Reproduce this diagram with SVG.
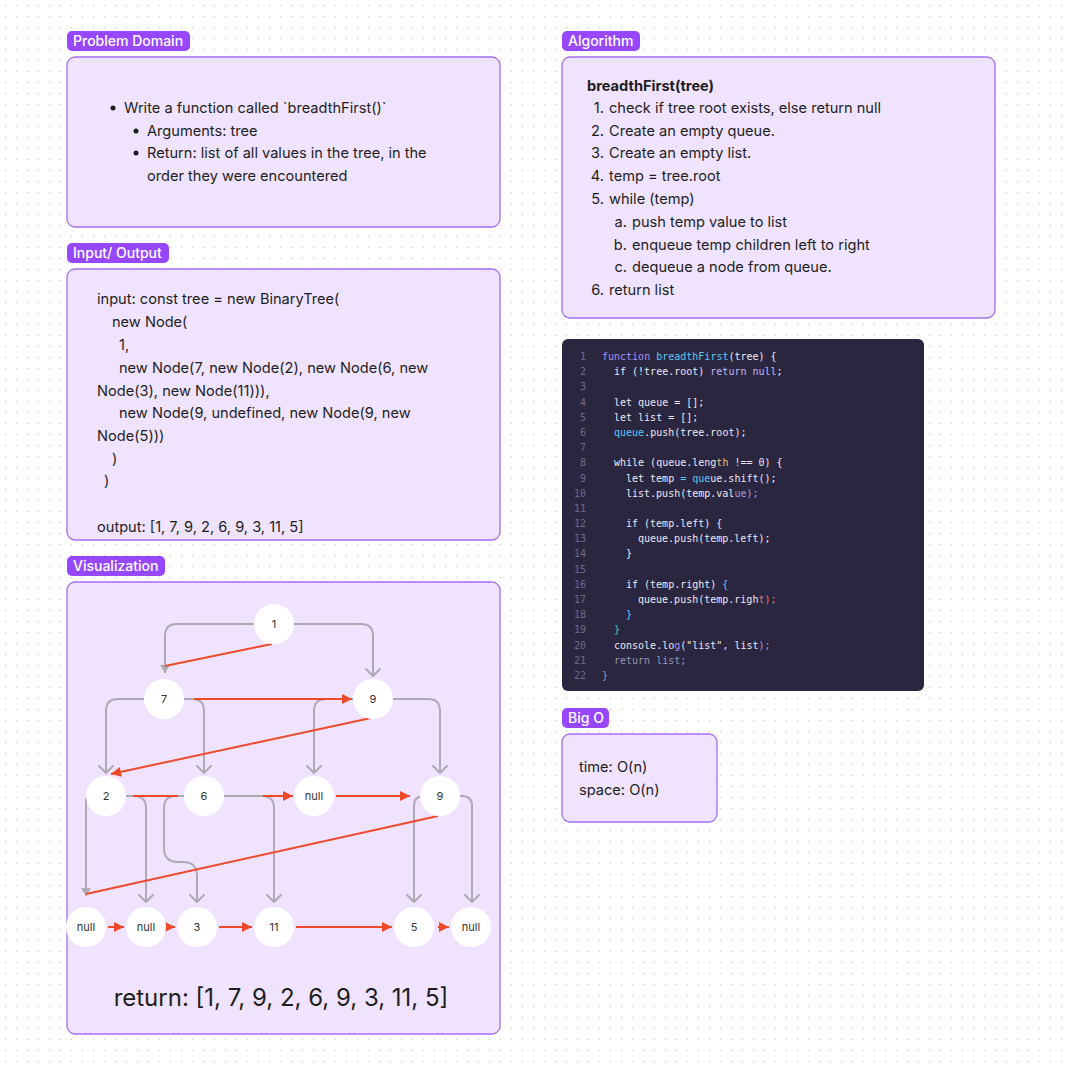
<svg xmlns="http://www.w3.org/2000/svg" width="1067" height="1070" viewBox="0 0 1067 1070">
<defs>
<pattern id="dots" x="0" y="0" width="11" height="11" patternUnits="userSpaceOnUse">
<circle cx="5.5" cy="5.5" r="0.75" fill="#cccccc"/>
</pattern>
<marker id="chev" viewBox="-10 -10 20 20" markerWidth="20" markerHeight="20" markerUnits="userSpaceOnUse" refX="0" refY="0" orient="auto">
<path d="M-7,-7 L0,0 L-7,7" fill="none" stroke="#aeaab3" stroke-width="2" stroke-linecap="round" stroke-linejoin="round"/>
</marker>
<marker id="gtri" viewBox="-10 -10 20 20" markerWidth="20" markerHeight="20" markerUnits="userSpaceOnUse" refX="0" refY="0" orient="auto">
<path d="M-8,-5 L0,0 L-8,5 Z" fill="#aeaab3"/>
</marker>
<marker id="rtri" viewBox="-12 -12 24 24" markerWidth="24" markerHeight="24" markerUnits="userSpaceOnUse" refX="0" refY="0" orient="auto">
<path d="M-10,-5 L0,0 L-10,5 Z" fill="#ee4a2a"/>
</marker>
</defs>
<style>
.t{font-family:Inter,"Liberation Sans",sans-serif;font-size:14.6px;fill:#1e1e1e}
.lbl{font-family:Inter,"Liberation Sans",sans-serif;font-size:14px;font-weight:500;fill:#ffffff}
.lr{fill:#9747ff}
.box{fill:#f0e3ff;stroke:#a56ef0;stroke-width:1.3}
.g{fill:none;stroke:#aeaab3;stroke-width:2}
.r{fill:none;stroke:#ee4a2a;stroke-width:2}
.nd{fill:#ffffff}
.nt{font-family:Inter,"Liberation Sans",sans-serif;font-size:11px;fill:#333333;text-anchor:middle}
.c{font-family:"DejaVu Sans Mono","Liberation Mono",monospace;font-size:10px;fill:#ebe8f3}
.ln{font-family:"DejaVu Sans Mono","Liberation Mono",monospace;font-size:10px;fill:#6f6a85;text-anchor:end}
.kw{fill:#a493f2}.fn{fill:#5ec8f2}.lv{fill:#c3b8ef}.ye{fill:#e5c07b}.fd{fill:#a59bd0}.sa{fill:#e07a6a}.te{fill:#4fc9a8}.gy{fill:#9a94b0}
</style>
<rect width="1067" height="1070" fill="#ffffff"/>
<rect width="1067" height="1070" fill="url(#dots)"/>

<g id="problem-domain">
<rect class="lr" x="67" y="31" width="123" height="20" rx="5"/>
<text class="lbl" x="73" y="46">Problem Domain</text>
<rect class="box" x="67" y="57" width="433" height="170" rx="8"/>
<circle cx="113" cy="108" r="2.5" fill="#1e1e1e"/>
<text class="t" x="124" y="113">Write a function called `breadthFirst()`</text>
<circle cx="136" cy="131" r="2.5" fill="#1e1e1e"/>
<text class="t" x="147" y="136">Arguments: tree</text>
<circle cx="136" cy="153" r="2.5" fill="#1e1e1e"/>
<text class="t" x="147" y="158">Return: list of all values in the tree, in the</text>
<text class="t" x="147" y="181">order they were encountered</text>
</g>

<g id="input-output">
<rect class="lr" x="67" y="243" width="102" height="20" rx="5"/>
<text class="lbl" x="73" y="258">Input/ Output</text>
<rect class="box" x="67" y="269" width="433" height="271" rx="8"/>
<text class="t" x="97" y="304">input: const tree = new BinaryTree(</text>
<text class="t" x="112" y="327">new Node(</text>
<text class="t" x="119" y="350">1,</text>
<text class="t" x="119" y="373">new Node(7, new Node(2), new Node(6, new</text>
<text class="t" x="97" y="396">Node(3), new Node(11))),</text>
<text class="t" x="119" y="418">new Node(9, undefined, new Node(9, new</text>
<text class="t" x="97" y="441">Node(5)))</text>
<text class="t" x="112" y="464">)</text>
<text class="t" x="104" y="486">)</text>
<text class="t" x="97" y="532">output: [1, 7, 9, 2, 6, 9, 3, 11, 5]</text>
</g>

<g id="algorithm">
<rect class="lr" x="562" y="31" width="78" height="20" rx="5"/>
<text class="lbl" x="568" y="46">Algorithm</text>
<rect class="box" x="562" y="57" width="433" height="261" rx="8"/>
<text class="t" x="587" y="91" font-weight="700">breadthFirst(tree)</text>
<g text-anchor="end">
<text class="t" x="604" y="113">1.</text>
<text class="t" x="604" y="136">2.</text>
<text class="t" x="604" y="158">3.</text>
<text class="t" x="604" y="181">4.</text>
<text class="t" x="604" y="204">5.</text>
<text class="t" x="627" y="227">a.</text>
<text class="t" x="627" y="250">b.</text>
<text class="t" x="627" y="272">c.</text>
<text class="t" x="604" y="295">6.</text>
</g>
<text class="t" x="609" y="113">check if tree root exists, else return null</text>
<text class="t" x="609" y="136">Create an empty queue.</text>
<text class="t" x="609" y="158">Create an empty list.</text>
<text class="t" x="609" y="181">temp = tree.root</text>
<text class="t" x="609" y="204">while (temp)</text>
<text class="t" x="632" y="227">push temp value to list</text>
<text class="t" x="632" y="250">enqueue temp children left to right</text>
<text class="t" x="632" y="272">dequeue a node from queue.</text>
<text class="t" x="609" y="295">return list</text>
</g>

<g id="code">
<rect x="562" y="339" width="362" height="352" rx="6" fill="#2b2640"/>
<text class="ln" x="586" y="360">1</text>
<text class="ln" x="586" y="375">2</text>
<text class="ln" x="586" y="390">3</text>
<text class="ln" x="586" y="406">4</text>
<text class="ln" x="586" y="421">5</text>
<text class="ln" x="586" y="436">6</text>
<text class="ln" x="586" y="451">7</text>
<text class="ln" x="586" y="466">8</text>
<text class="ln" x="586" y="482">9</text>
<text class="ln" x="586" y="497">10</text>
<text class="ln" x="586" y="512">11</text>
<text class="ln" x="586" y="527">12</text>
<text class="ln" x="586" y="542">13</text>
<text class="ln" x="586" y="557">14</text>
<text class="ln" x="586" y="573">15</text>
<text class="ln" x="586" y="588">16</text>
<text class="ln" x="586" y="603">17</text>
<text class="ln" x="586" y="618">18</text>
<text class="ln" x="586" y="633">19</text>
<text class="ln" x="586" y="649">20</text>
<text class="ln" x="586" y="664">21</text>
<text class="ln" x="586" y="679">22</text>
<text class="c" x="602" y="360" xml:space="preserve"><tspan class="kw">function</tspan> <tspan class="fn">breadthFirst</tspan>(tree) {</text>
<text class="c" x="614" y="375" xml:space="preserve">if (!tree.root) <tspan class="lv">return null</tspan>;</text>
<text class="c" x="614" y="406">let queue = [];</text>
<text class="c" x="614" y="421">let list = [];</text>
<text class="c" x="614" y="436"><tspan class="fn">queue</tspan>.push(tree.root);</text>
<text class="c" x="614" y="466" xml:space="preserve">while (queue.leng<tspan class="ye">th</tspan> !== 0) {</text>
<text class="c" x="626" y="482" xml:space="preserve">let temp <tspan class="fn">= que</tspan>ue.shift();</text>
<text class="c" x="626" y="497">list.push(temp.val<tspan class="fd">ue);</tspan></text>
<text class="c" x="626" y="527">if (temp.left) {</text>
<text class="c" x="638" y="542">queue.push(temp.left);</text>
<text class="c" x="626" y="557">}</text>
<text class="c" x="626" y="588" xml:space="preserve">if (temp.right) <tspan class="fn">{</tspan></text>
<text class="c" x="638" y="603">queue.push(temp.righ<tspan class="sa">t);</tspan></text>
<text class="c fn" x="626" y="618">}</text>
<text class="c te" x="614" y="633">}</text>
<text class="c" x="614" y="649" xml:space="preserve">console.lo<tspan class="kw">g</tspan>("list", list<tspan class="fd">);</tspan></text>
<text class="c gy" x="614" y="664">return list;</text>
<text class="c gy" x="602" y="679">}</text>
</g>

<g id="big-o">
<rect class="lr" x="562" y="708" width="47" height="20" rx="5"/>
<text class="lbl" x="568" y="723">Big O</text>
<rect class="box" x="562" y="734" width="155" height="88" rx="8"/>
<text class="t" x="579" y="772">time: O(n)</text>
<text class="t" x="579" y="795">space: O(n)</text>
</g>

<g id="visualization">
<rect class="lr" x="67" y="556" width="98" height="20" rx="5"/>
<text class="lbl" x="73" y="571">Visualization</text>
<rect class="box" x="67" y="582" width="433" height="452" rx="8"/>
<text x="281" y="1006" font-family="Inter,'Liberation Sans',sans-serif" font-size="24" fill="#1e1e1e" text-anchor="middle">return: [1, 7, 9, 2, 6, 9, 3, 11, 5]</text>
</g>

<g id="connectors">
<path class="g" d="M254,624 H177 Q165,624 165,636 V673" marker-end="url(#gtri)"/>
<path class="g" d="M294,624 H361 Q373,624 373,636 V676" marker-end="url(#chev)"/>
<path class="g" d="M144,699 H118 Q106,699 106,711 V773" marker-end="url(#chev)"/>
<path class="g" d="M184,699 H192 Q204,699 204,711 V773" marker-end="url(#chev)"/>
<path class="g" d="M353,699 H326 Q314,699 314,711 V773" marker-end="url(#chev)"/>
<path class="g" d="M393,699 H428 Q440,699 440,711 V773" marker-end="url(#chev)"/>
<path class="g" d="M86,798 V896" marker-end="url(#gtri)"/>
<path class="g" d="M126,796 H134 Q146,796 146,808 V902" marker-end="url(#chev)"/>
<path class="g" d="M184,796 H176 Q164,796 164,808 V848 Q164,862 178,862 H183 Q197,862 197,876 V902" marker-end="url(#chev)"/>
<path class="g" d="M224,796 H262 Q274,796 274,808 V902" marker-end="url(#chev)"/>
<path class="g" d="M428,796 H424 Q414,796 414,806 V902" marker-end="url(#chev)"/>
<path class="g" d="M450,796 H462 Q472,796 472,806 V902" marker-end="url(#chev)"/>
<path class="r" d="M272,644 L165,666"/>
<path class="r" d="M194,699 L352,699" marker-end="url(#rtri)"/>
<path class="r" d="M371,718 L111,774" marker-end="url(#rtri)"/>
<path class="r" d="M133,796 L178,796"/>
<path class="r" d="M263,796 L293,796" marker-end="url(#rtri)"/>
<path class="r" d="M336,796 L410,796" marker-end="url(#rtri)"/>
<path class="r" d="M438,816 L86,894"/>
<path class="r" d="M108,927 L124,927" marker-end="url(#rtri)"/>
<path class="r" d="M166,927 L175,927" marker-end="url(#rtri)"/>
<path class="r" d="M219,927 L252,927" marker-end="url(#rtri)"/>
<path class="r" d="M296,927 L392,927" marker-end="url(#rtri)"/>
<path class="r" d="M438,927 L449,927" marker-end="url(#rtri)"/>
</g>

<g id="node-1"><circle class="nd" cx="274" cy="624" r="20"/><text class="nt" x="274" y="628">1</text></g>
<g id="node-7"><circle class="nd" cx="164" cy="699" r="20"/><text class="nt" x="164" y="703">7</text></g>
<g id="node-9a"><circle class="nd" cx="373" cy="699" r="20"/><text class="nt" x="373" y="703">9</text></g>
<g id="node-2"><circle class="nd" cx="106" cy="796" r="20"/><text class="nt" x="106" y="800">2</text></g>
<g id="node-6"><circle class="nd" cx="204" cy="796" r="20"/><text class="nt" x="204" y="800">6</text></g>
<g id="node-null-a"><circle class="nd" cx="314" cy="796" r="20"/><text class="nt" x="314" y="800">null</text></g>
<g id="node-9b"><circle class="nd" cx="440" cy="796" r="20"/><text class="nt" x="440" y="800">9</text></g>
<g id="node-null-b"><circle class="nd" cx="86" cy="927" r="20"/><text class="nt" x="86" y="931">null</text></g>
<g id="node-null-c"><circle class="nd" cx="146" cy="927" r="20"/><text class="nt" x="146" y="931">null</text></g>
<g id="node-3"><circle class="nd" cx="197" cy="927" r="20"/><text class="nt" x="197" y="931">3</text></g>
<g id="node-11"><circle class="nd" cx="274" cy="927" r="20"/><text class="nt" x="274" y="931">11</text></g>
<g id="node-5"><circle class="nd" cx="414" cy="927" r="20"/><text class="nt" x="414" y="931">5</text></g>
<g id="node-null-d"><circle class="nd" cx="471" cy="927" r="20"/><text class="nt" x="471" y="931">null</text></g>
</svg>
